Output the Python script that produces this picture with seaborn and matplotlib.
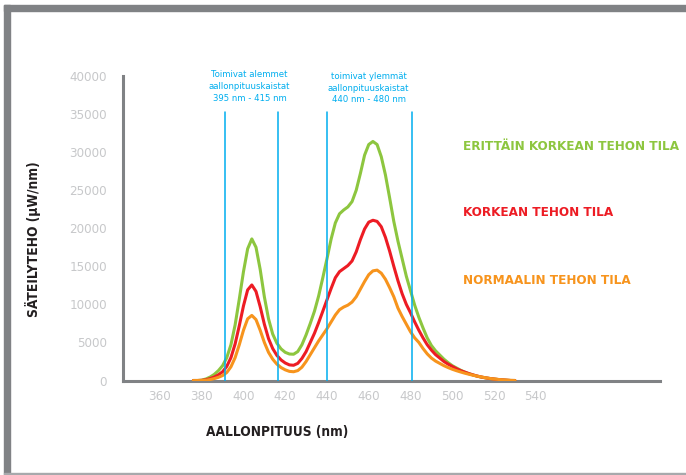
import numpy as np
import pandas as pd
import seaborn as sns
import matplotlib.pyplot as plt
import matplotlib.font_manager as fm
from matplotlib.patches import Rectangle

# wavelengths (nm) and spectral power (uW/nm)
wavelength = [376, 378, 380, 382, 384, 386, 388, 390, 392, 394, 396, 398, 400, 402, 404, 406, 408, 410,
              412, 414, 416, 418, 420, 422, 424, 426, 428, 430, 432, 434, 436, 438, 440, 442, 444, 446,
              448, 450, 452, 454, 456, 458, 460, 462, 464, 466, 468, 470, 472, 474, 476, 478, 480, 482,
              484, 486, 488, 490, 492, 494, 496, 498, 500, 502, 504, 506, 508, 510, 512, 514, 516, 518,
              520, 522, 524, 526, 528, 530]

very_high = [0, 0, 50, 200, 450, 800, 1300, 1950, 3000, 4700, 7300, 10700, 14300, 17300, 18600, 17500,
             14600, 11000, 8100, 6100, 4900, 4150, 3700, 3480, 3450, 3800, 4700, 6000, 7500, 9100, 11100,
             13500, 16000, 18600, 20700, 21900, 22400, 22800, 23500, 25000, 27200, 29600, 31000, 31400,
             31000, 29400, 27000, 24000, 20900, 18300, 16000, 13700, 11800, 9900, 8300, 6900, 5600, 4600,
             3900, 3350, 2800, 2350, 1950, 1650, 1350, 1100, 900, 720, 560, 440, 340, 260, 190, 130, 80,
             40, 0, 0]

high = [0, 0, 20, 100, 250, 450, 750, 1150, 1850, 3000, 4800, 7200, 9800, 11900, 12550, 11700, 9700,
        7400, 5500, 4200, 3300, 2700, 2300, 2050, 2000, 2250, 2900, 3800, 5000, 6200, 7600, 9100, 10600,
        12100, 13500, 14300, 14700, 15100, 15700, 16900, 18500, 19900, 20800, 21050, 20900, 20200, 18800,
        17000, 15000, 13100, 11400, 10000, 8900, 7700, 6600, 5600, 4700, 4000, 3400, 2950, 2500, 2150,
        1850, 1550, 1300, 1100, 900, 730, 580, 450, 350, 260, 190, 130, 80, 40, 0, 0]

normal = [0, 0, 0, 40, 120, 250, 420, 650, 1050, 1800, 3000, 4700, 6600, 8100, 8550, 8000, 6600, 5000,
          3700, 2800, 2150, 1700, 1400, 1200, 1150, 1300, 1750, 2500, 3400, 4300, 5200, 6000, 6800, 7700,
          8600, 9300, 9650, 9900, 10300, 11000, 12000, 13000, 13900, 14400, 14500, 14100, 13300, 12200,
          11000, 9500, 8400, 7400, 6400, 5600, 5000, 4200, 3500, 2950, 2550, 2250, 1950, 1700, 1480, 1290,
          1120, 960, 820, 690, 570, 460, 360, 270, 200, 140, 90, 50, 20, 0]

series_names = ["ERITTÄIN KORKEAN TEHON TILA", "KORKEAN TEHON TILA", "NORMAALIN TEHON TILA"]
series_colors = ["#8dc63f", "#ed1c24", "#f7941d"]

band_lines = [391, 416.5, 440, 480.5]
x_ticks = [360, 380, 400, 420, 440, 460, 480, 500, 520, 540]
y_ticks = [0, 5000, 10000, 15000, 20000, 25000, 30000, 35000, 40000]

df = pd.DataFrame({"nm": wavelength, series_names[0]: very_high,
                   series_names[1]: high, series_names[2]: normal})
long_df = df.melt(id_vars="nm", var_name="tila", value_name="teho")

sns.set_style("white")

# narrowest family on hand: a condensed face if one is installed, else Roboto
cond = [f for f in fm.fontManager.ttflist
        if "ondensed" in f.fname or "arrow" in f.fname or f.stretch not in ("normal", 500, 400)]
if cond:
    base_family = cond[0].name
    stretch = "condensed"
else:
    base_family = "Roboto"
    stretch = "normal"
plt.rcParams["font.family"] = [base_family, "DejaVu Sans"]
plt.rcParams["font.stretch"] = stretch

gray = "#808285"
light = "#c7c8ca"
blue = "#00aeef"
dark = "#231f20"

fig = plt.figure(figsize=(6.86, 4.75), dpi=100)
ax = fig.add_axes([123 / 686, (475 - 380.5) / 475, 537 / 686, 304.5 / 475])

sns.lineplot(data=long_df, x="nm", y="teho", hue="tila", hue_order=series_names,
             palette=series_colors, linewidth=2.2, legend=False, ax=ax, zorder=3)

for x in band_lines:
    ax.plot([x, x], [0, 35300], color=blue, linewidth=1.1, zorder=4)

ann1 = ax.text(403, 38600, "Toimivat alemmet\naallonpituuskaistat\n395 nm - 415 nm", color=blue,
               fontsize=6.8, ha="center", va="center", linespacing=1.4, clip_on=False)
ann2 = ax.text(460, 38400, "toimivat ylemmät\naallonpituuskaistat\n440 nm - 480 nm", color=blue,
               fontsize=6.8, ha="center", va="center", linespacing=1.4, clip_on=False)

ax.set_xlim(342.3, 599.5)
ax.set_ylim(0, 40000)
ax.set_xticks(x_ticks)
ax.set_yticks(y_ticks)
ax.set_yticklabels([str(v) for v in y_ticks])
ax.tick_params(axis="y", length=7.5, width=1.8, color=gray, labelcolor=light, labelsize=9.5, pad=4)
ax.tick_params(axis="x", length=0, labelcolor=light, labelsize=9.5, pad=7)
ax.set_xlabel("")
ax.set_ylabel("")

for side in ["top", "right"]:
    ax.spines[side].set_visible(False)
for side in ["left", "bottom"]:
    ax.spines[side].set_color(gray)
    ax.spines[side].set_linewidth(2.2)

label_y = [147, 213, 281]
labels = []
for name, color, yp in zip(series_names, series_colors, label_y):
    labels.append(fig.text(463 / 686, 1 - yp / 475, name, color=color, fontsize=12, fontweight="bold",
                           ha="left", va="center"))

ylab = fig.text(33 / 686, 1 - 239 / 475, "SÄTEILYTEHO (µW/nm)", rotation=90, color=dark,
                fontsize=11, fontweight="bold", ha="center", va="center")
xlab = fig.text(277 / 686, 1 - 432 / 475, "AALLONPITUUS (nm)", color=dark,
                fontsize=11, fontweight="bold", ha="center", va="center")

# fit text widths to the reference (a little wider, the font is less condensed)
fig.canvas.draw()
r = fig.canvas.get_renderer()


def fit(t, target, vertical=False):
    bb = t.get_window_extent(r)
    size = bb.height if vertical else bb.width
    t.set_fontsize(t.get_fontsize() * target / size)


fit(labels[0], 216)
for t in labels[1:]:
    t.set_fontsize(labels[0].get_fontsize())
fit(ylab, 156, vertical=True)
fit(xlab, 142)

# grey frame round the chart
fig.patches.append(Rectangle((4 / 686, 1 - 11 / 475), 1, 6 / 475, transform=fig.transFigure,
                             color=gray, zorder=0))
fig.patches.append(Rectangle((4 / 686, 1 - 474 / 475), 5.5 / 686, 469 / 475, transform=fig.transFigure,
                             color=gray, zorder=0))
fig.patches.append(Rectangle((4 / 686, 1 - 474.5 / 475), 1, 1.5 / 475, transform=fig.transFigure,
                             color="#a7a9ac", zorder=0))

fig.savefig("out.png", dpi=100)
